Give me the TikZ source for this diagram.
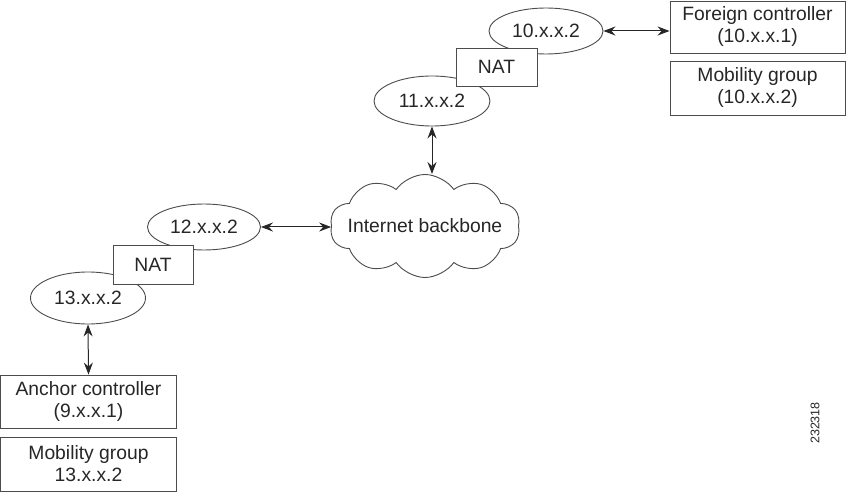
\documentclass[tikz,border=0pt]{standalone}
\usepackage{fontspec}
\setmainfont{Liberation Sans}
\usetikzlibrary{shapes.geometric,shapes.symbols,arrows.meta}
\begin{document}
\begin{tikzpicture}[x=1pt,y=-1pt,
  every node/.style={font=\fontsize{19.3}{22}\selectfont, text=black!85, inner sep=0pt},
  oval/.style={draw=black!70, line width=0.9pt, ellipse, fill=white},
  natbox/.style={draw=black!70, line width=0.9pt, rectangle, fill=white},
  infobox/.style={draw=black!70, line width=0.9pt, rectangle, align=center},
  conn/.style={draw=black!85, line width=1pt, {Stealth[length=12pt,width=9pt,inset=4pt]}-{Stealth[length=12pt,width=9pt,inset=4pt]}}
]
\useasboundingbox (0,0) rectangle (847,492);
% ellipses
\node[oval, minimum width=114pt, minimum height=46pt] (e10) at (546,31) {10.x.x.2};
\node[oval, minimum width=116pt, minimum height=50pt] (e11) at (432,101) {11.x.x.2};
\node[oval, minimum width=113pt, minimum height=46pt] (e12) at (204,227) {12.x.x.2};
\node[oval, minimum width=115pt, minimum height=52pt] (e13) at (88,298) {13.x.x.2};
% NAT boxes
\node[natbox, minimum width=81pt, minimum height=38pt] (nat1) at (496.5,67) {NAT};
\node[natbox, minimum width=80pt, minimum height=39pt] (nat2) at (153,264.5) {NAT};
% cloud
\node[cloud, draw=black!70, line width=0.9pt, cloud puffs=10, cloud puff arc=110, aspect=1.8,
      minimum width=190pt, minimum height=103pt] (inet) at (425,226) {};
\node (inettext) at (inet.center) {Internet backbone};
% info boxes
\node[infobox, minimum width=175pt, minimum height=52pt] (fc) at (757.5,27) {Foreign controller\\(10.x.x.1)};
\node[infobox, minimum width=175pt, minimum height=54pt] (mg1) at (757.5,88) {Mobility group\\(10.x.x.2)};
\node[infobox, minimum width=176pt, minimum height=53pt] (ac) at (88.5,401.5) {Anchor controller\\(9.x.x.1)};
\node[infobox, minimum width=176pt, minimum height=54pt] (mg2) at (88.5,464) {Mobility group\\13.x.x.2};
% connectors
\draw[conn] (e10.east) -- (e10.east -| fc.west);
\draw[conn] (e11.south) -- (e11.south |- inet.north);
\draw[conn] (e12.east) -- (e12.east -| inet.west);
\draw[conn] (e13.south) -- (ac.north);
% figure id
\node[rotate=90, font=\fontsize{12.5}{14}\selectfont] (figid) at (815,423) {232318};
\end{tikzpicture}
\end{document}
